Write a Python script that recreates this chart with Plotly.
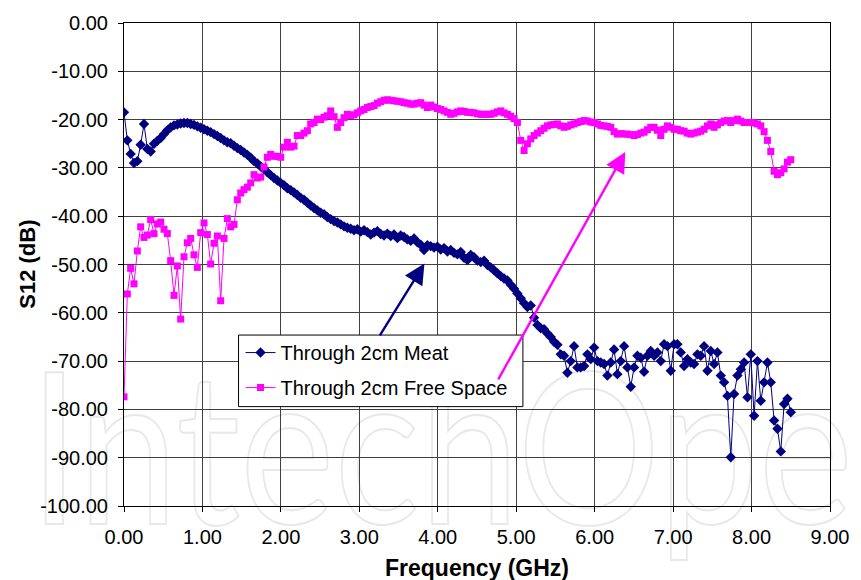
import base64
import numpy as np
import plotly.graph_objects as go

# Frequency sweep: 201 points, 0 to 8.5 GHz
freq_start = 0.0
freq_step = 0.0425
n_points = 201
freq = np.round(freq_start + np.arange(n_points) * freq_step, 4)

meat = [
    -18.5, -24.3, -27.1, -29.0, -28.6, -25.2, -20.9, -26.1, -26.6, -25.0,
    -24.4, -23.8, -23.0, -22.2, -21.6, -21.2, -21.0, -20.8, -20.7, -20.7,
    -20.9, -21.1, -21.4, -21.7, -22.0, -22.3, -22.6, -23.0, -23.4, -23.8,
    -24.3, -24.7, -24.9, -25.4, -25.9, -26.3, -26.8, -27.3, -27.9, -28.6,
    -29.1, -29.7, -30.3, -30.9, -31.5, -32.1, -32.6, -33.1, -33.6, -34.2,
    -34.6, -35.1, -35.6, -36.2, -36.6, -37.2, -37.8, -38.3, -38.8, -39.3,
    -39.6, -40.2, -40.6, -41.0, -41.3, -41.7, -42.1, -42.4, -42.6, -42.9,
    -42.7, -43.2, -42.9, -43.3, -43.8, -43.4, -43.1, -43.7, -44.0, -43.6,
    -44.1, -43.8, -44.5, -44.0, -44.3, -44.8, -45.1, -44.6, -45.4, -45.9,
    -47.0, -46.0, -46.2, -46.5, -46.3, -46.9, -46.6, -47.3, -47.0, -47.6,
    -47.9, -47.4, -48.6, -49.1, -48.0, -48.5, -49.2, -49.5, -49.2, -50.1,
    -50.6, -51.2, -51.8, -52.4, -52.9, -53.3, -54.2, -55.0, -56.0, -57.0,
    -58.0, -58.8, -58.5, -61.0, -62.5, -63.2, -63.4, -64.3, -65.0, -66.0,
    -66.6, -68.6, -68.9, -72.4, -70.0, -66.9, -71.3, -71.3, -71.0, -68.6,
    -69.6, -67.2, -70.0, -70.3, -70.6, -73.0, -70.3, -67.6, -72.7, -70.0,
    -66.9, -71.3, -75.3, -71.3, -68.9, -69.3, -72.2, -68.9, -67.9, -68.9,
    -68.2, -70.0, -66.5, -66.9, -72.0, -66.5, -66.5, -68.2, -71.0, -69.6,
    -70.3, -70.6, -68.6, -68.9, -66.9, -72.0, -67.9, -70.6, -68.2, -73.0,
    -74.4, -77.2, -89.9, -76.8, -73.0, -71.7, -70.3, -77.5, -68.6, -81.3,
    -70.0, -78.2, -74.4, -70.3, -74.4, -82.3, -84.0, -88.7, -78.9, -77.8,
    -80.6,
]

free_space = [
    -77.4, -56.1, -50.8, -54.0, -47.2, -42.2, -44.4, -43.9, -40.7, -43.6,
    -41.6, -41.2, -42.7, -43.6, -49.2, -56.4, -50.3, -61.3, -48.4, -45.5,
    -44.6, -48.0, -50.6, -43.4, -41.4, -43.8, -49.9, -45.6, -44.1, -57.5,
    -44.6, -40.5, -42.2, -41.7, -36.6, -35.2, -34.5, -34.0, -33.1, -31.4,
    -32.1, -31.9, -29.8, -27.8, -27.2, -27.6, -27.6, -27.8, -25.7, -24.7,
    -25.7, -25.5, -23.3, -23.3, -22.8, -22.3, -20.9, -20.6, -19.9, -20.0,
    -19.5, -19.2, -18.2, -19.4, -21.6, -20.6, -19.6, -18.9, -19.2, -19.0,
    -18.6, -18.2, -17.9, -17.5, -17.3, -17.1, -16.6, -16.3, -16.0, -15.9,
    -16.0, -16.1, -16.2, -16.3, -16.5, -16.6, -16.8, -16.8, -16.6, -16.5,
    -17.0, -17.5, -17.0, -17.4, -17.7, -17.9, -18.2, -18.5, -18.9, -18.7,
    -18.4, -18.2, -18.3, -18.5, -18.5, -18.6, -18.8, -18.9, -18.9, -18.9,
    -18.9, -18.7, -18.4, -18.2, -18.6, -18.9, -19.3, -19.8, -20.6, -24.3,
    -26.4, -25.0, -24.0, -23.3, -22.8, -22.3, -21.8, -21.3, -21.1, -21.0,
    -20.9, -21.3, -21.6, -21.4, -21.1, -20.9, -20.6, -20.4, -20.2, -20.3,
    -20.5, -20.6, -20.9, -21.2, -21.3, -21.4, -21.6, -22.5, -23.0, -22.9,
    -23.0, -23.0, -23.1, -23.3, -23.1, -22.8, -22.6, -22.1, -21.6, -21.6,
    -22.2, -23.3, -22.0, -21.3, -21.6, -22.0, -22.0, -22.3, -22.4, -22.8,
    -23.0, -22.8, -22.6, -22.4, -22.0, -21.3, -20.9, -21.6, -21.1, -20.6,
    -20.3, -20.2, -20.6, -20.2, -19.9, -20.3, -20.6, -20.6, -20.6, -20.7,
    -20.9, -21.3, -22.5, -24.3, -26.6, -30.7, -31.4, -31.0, -30.2, -28.8,
    -28.3,
]

x_tick_vals = [0, 1, 2, 3, 4, 5, 6, 7, 8, 9]
x_tick_text = ["0.00", "1.00", "2.00", "3.00", "4.00", "5.00", "6.00", "7.00", "8.00", "9.00"]
y_tick_vals = [0, -10, -20, -30, -40, -50, -60, -70, -80, -90, -100]
y_tick_text = ["0.00", "-10.00", "-20.00", "-30.00", "-40.00", "-50.00",
               "-60.00", "-70.00", "-80.00", "-90.00", "-100.00"]

series_names = ["Through 2cm Meat", "Through 2cm Free Space"]
x_title = "Frequency (GHz)"
y_title = "S12 (dB)"
watermark_text = "IntechOpen"

# arrow annotations: (tail x, tail y, head x, head y) in data units
meat_arrow = (3.25, -65.0, 3.83, -49.8)
free_arrow = (4.76, -74.1, 6.39, -26.7)

FONT = "Liberation Sans, Arial, sans-serif"
NAVY = "#000080"
MAGENTA = "#FF00FF"

W, H = 861, 580
ML, MR, MT, MB = 124, 22, 20, 74
PW, PH = W - ML - MR, H - MT - MB


def px_x(p):
    return (p - ML) / PW


def px_y(p):
    return (MT + PH - p) / PH


fig = go.Figure()
fig.add_trace(go.Scatter(
    x=freq, y=meat, name=series_names[0], mode="lines+markers",
    legendgroup="a",
    line=dict(color=NAVY, width=1),
    marker=dict(symbol="diamond", size=8, color=NAVY),
))
fig.add_trace(go.Scatter(
    x=freq, y=free_space, name=series_names[1], mode="lines+markers",
    legendgroup="b",
    line=dict(color=MAGENTA, width=1),
    marker=dict(symbol="square", size=7, color=MAGENTA),
))

# faint outlined watermark as an inline SVG image behind the plot
svg = (
    f'<svg xmlns="http://www.w3.org/2000/svg" width="{W}" height="{H}" viewBox="0 0 {W} {H}">'
    f'<text x="28" y="524" font-family="Lato, Noto Sans, sans-serif" font-size="212" '
    f'textLength="935" lengthAdjust="spacingAndGlyphs" '
    f'fill="none" stroke="#e8e8e8" stroke-width="2">{watermark_text}</text></svg>'
)
svg_uri = "data:image/svg+xml;base64," + base64.b64encode(svg.encode()).decode()

annotations = []
for (tx, ty, hx, hy), col in [(meat_arrow, NAVY), (free_arrow, MAGENTA)]:
    annotations.append(dict(
        x=hx, y=hy, ax=tx, ay=ty, xref="x", yref="y", axref="x", ayref="y",
        text="", showarrow=True, arrowhead=2, arrowsize=1.7, arrowwidth=2.4,
        arrowcolor=col,
    ))
annotations.append(dict(
    text=f"<b>{x_title}</b>", xref="paper", yref="paper",
    x=0.5, y=px_y(568), xanchor="center", yanchor="middle",
    showarrow=False, font=dict(family=FONT, size=23, color="black"),
))
annotations.append(dict(
    text=f"<b>{y_title}</b>", xref="paper", yref="paper", textangle=-90,
    x=px_x(26), y=0.5, xanchor="center", yanchor="middle",
    showarrow=False, font=dict(family=FONT, size=22, color="black"),
))

# legend frame drawn as a shape so that the arrow can pass over it
legend_box = dict(
    type="rect", xref="paper", yref="paper",
    x0=px_x(240), x1=px_x(528), y0=px_y(406), y1=px_y(334),
    fillcolor="white", line=dict(color="black", width=1), layer="above",
)

fig.update_layout(
    width=W, height=H,
    margin=dict(l=ML, r=MR, t=MT, b=MB),
    paper_bgcolor="white", plot_bgcolor="white",
    font=dict(family=FONT, size=20, color="black"),
    showlegend=True,
    legend=dict(
        x=px_x(242), y=px_y(332), xanchor="left", yanchor="top",
        bgcolor="rgba(0,0,0,0)", borderwidth=0,
        font=dict(family=FONT, size=20, color="black"),
        itemwidth=30, tracegroupgap=6,
    ),
    shapes=[legend_box],
    annotations=annotations,
    images=[dict(
        source=svg_uri, xref="paper", yref="paper",
        x=-ML / PW, y=1 + MT / PH, sizex=W / PW, sizey=H / PH,
        xanchor="left", yanchor="top", sizing="stretch", layer="below",
    )],
)
fig.update_xaxes(
    range=[0, 9], tickvals=x_tick_vals, ticktext=x_tick_text,
    showgrid=True, gridcolor="#404040", gridwidth=1,
    showline=True, linecolor="black", linewidth=1, mirror=True,
    ticks="outside", ticklen=5, tickcolor="black",
    tickfont=dict(family=FONT, size=20), ticklabelstandoff=8,
    zeroline=False,
)
fig.update_yaxes(
    range=[-100, 0], tickvals=y_tick_vals, ticktext=y_tick_text,
    showgrid=True, gridcolor="#404040", gridwidth=1,
    showline=True, linecolor="black", linewidth=1, mirror=True,
    ticks="outside", ticklen=5, tickcolor="black",
    tickfont=dict(family=FONT, size=20), ticklabelstandoff=6,
    zeroline=False,
)

fig.write_html("out.html")
